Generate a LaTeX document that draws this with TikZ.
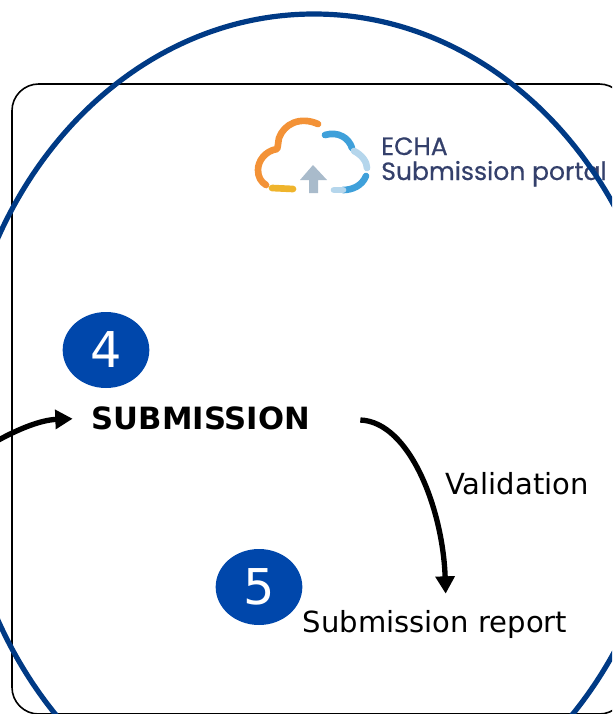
\documentclass[tikz,border=0pt]{standalone}
\usepackage{xcolor}
\usepackage{fontspec}
\setmainfont{DejaVu Sans}
\newfontfamily\logofont[FakeBold=0.5]{Poppins}
\usetikzlibrary{shapes.geometric,arrows.meta}
\definecolor{ringblue}{HTML}{003A85}
\definecolor{badgeblue}{HTML}{0047AB}
\definecolor{logonavy}{HTML}{34406B}
\definecolor{logoorange}{HTML}{F39237}
\definecolor{logoyellow}{HTML}{EFB42C}
\definecolor{logoblue}{HTML}{3FA0DA}
\definecolor{logopale}{HTML}{B5D6EC}
\definecolor{logogrey}{HTML}{A9BBCB}

\begin{document}
\begin{tikzpicture}[x=0.75pt,y=-0.75pt]
			\tikzstyle{badge} = [ellipse, fill=badgeblue, text=white, minimum width=65pt, minimum height=57pt, inner sep=0pt, font=\fontsize{37}{37}\selectfont]
			\tikzstyle{label} = [inner sep=0pt, font=\fontsize{21.8}{24}\selectfont]
			\tikzstyle{logotext} = [inner sep=0pt, anchor=base west, text=logonavy, font=\logofont\fontsize{18.8}{20}\selectfont]
			\tikzstyle{cloud} = [line width=5pt, line cap=round, line join=round]
			\tikzset{edge/.style = {line width=4pt, -{Triangle[length=13pt,width=14pt]}}}
			
			\useasboundingbox (0,0) rectangle (612,714);
			\clip (0,0) rectangle (612,714);
			
			\draw[line width=1.2pt, rounded corners=20pt] (12,84) rectangle (626,714);
			
			\draw[cloud, logoorange] (318,124) .. controls (300,116) and (284,124) .. (279,138) .. controls (278,143) and (278,147) .. (277,149) .. controls (265,151) and (258,161) .. (258,170) .. controls (258,177) and (261,182) .. (266,185);
			\draw[cloud, logoyellow] (272,188) -- (293,189);
			\draw[cloud, logoblue] (325,135) .. controls (338,131) and (349,138) .. (352,148);
			\draw[cloud, logopale] (354,151) .. controls (362,155) and (367,162) .. (367,168);
			\draw[cloud, logoblue] (366,176) .. controls (362,186) and (352,190) .. (343,190);
			\draw[cloud, logopale] (343,190) -- (334,190);
			\fill[logogrey] (300,180) -- (313,165) -- (327,180) -- (318,180) -- (318,193) -- (309,193) -- (309,180) -- cycle;
			\node[logotext](echa) at (381,155) {ECHA};
			\node[logotext](portal) at (381,180) {Submission portal};
			
			\draw[line width=3.9pt, ringblue] (314,429) ellipse [x radius=356, y radius=415];
			
			\node[badge](badge4) at (106,350) {4};
			\node[badge](badge5) at (259,587) {5};
			
			\node[label, font=\bfseries\fontsize{23}{25}\selectfont](submission) at (201,418) {SUBMISSION};
			\node[label](validation) at (517,484) {Validation};
			\node[label](report) at (435,624) {Submission report};
			
			\coordinate (incoming) at (-12,446);
			\draw[edge, shorten >=14.25pt] (incoming) .. controls (15,430) and (40,420) .. (submission.west);
			\draw[edge, shorten <=37.5pt] (submission.east) .. controls (410,422) and (443,510) .. ([xshift=8pt,yshift=12pt]report.north);
			
			\end{tikzpicture}
\end{document}
